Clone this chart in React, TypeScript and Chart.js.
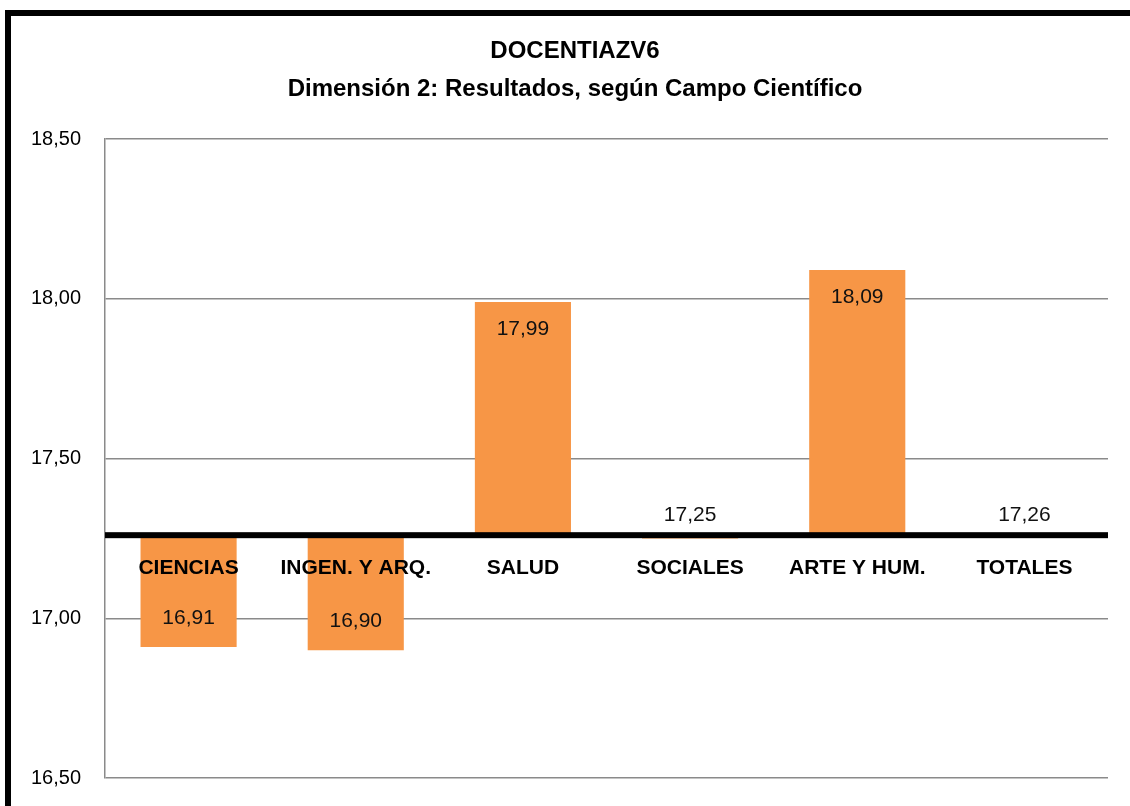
import React, { useEffect, useRef } from "react";
import { Chart, registerables } from "chart.js";

Chart.register(...registerables);

const categories = ["CIENCIAS", "INGEN. Y ARQ.", "SALUD", "SOCIALES", "ARTE Y HUM.", "TOTALES"];
const values = [16.91, 16.9, 17.99, 17.25, 18.09, 17.26];
const baseline = 17.26;
const titleLines = ["DOCENTIAZV6", "Dimensión 2: Resultados, según Campo Científico"];
const yMin = 16.5;
const yMax = 18.5;
const yStep = 0.5;

const FONT = "'Liberation Sans', Arial, sans-serif";
const fmt = (v: number) => v.toFixed(2).replace(".", ",");

const overlayPlugin = {
  id: "overlay",
  afterLayout(chart: any) {
    // let the y tick labels use the space left of the layout padding
    if (chart.scales.y) chart.scales.y.left = 0;
  },
  beforeDraw(chart: any) {
    const { ctx, width, height } = chart;
    ctx.save();
    ctx.fillStyle = "#ffffff";
    ctx.fillRect(0, 0, width, height);
    ctx.fillStyle = "#000000";
    ctx.fillRect(5, 10, 6, height - 10);
    ctx.fillRect(5, 10, width - 5, 6);
    ctx.restore();
  },
  afterDatasetsDraw(chart: any) {
    const { ctx, chartArea } = chart;
    const x = chart.scales.x;
    const y = chart.scales.y;
    const by = y.getPixelForValue(baseline);
    ctx.save();
    ctx.fillStyle = "#000000";
    ctx.fillRect(chartArea.left, by - 3, chartArea.right - chartArea.left, 6);

    ctx.textAlign = "center";
    ctx.textBaseline = "middle";
    ctx.font = `bold 21px ${FONT}`;
    ctx.fillStyle = "#000000";
    categories.forEach((c, i) => {
      ctx.fillText(c, x.getPixelForValue(i), by + 33);
    });

    ctx.font = `21px ${FONT}`;
    ctx.fillStyle = "#111111";
    values.forEach((v, i) => {
      const px = x.getPixelForValue(i);
      const py = y.getPixelForValue(v);
      let ly;
      if (Math.abs(v - baseline) < 0.05) ly = by - 20;
      else if (v > baseline) ly = py + 27;
      else ly = py - 29;
      ctx.fillText(fmt(v), px, ly);
    });
    ctx.restore();
  },
};

export default function App() {
  const ref = useRef<HTMLCanvasElement>(null);
  useEffect(() => {
    if (!ref.current) return;
    const chart = new Chart(ref.current, {
      type: "bar",
      data: {
        labels: categories,
        datasets: [
          {
            data: values.map((v) => [baseline, v]) as any,
            backgroundColor: "#F79646",
            borderWidth: 0,
            barPercentage: 0.575,
            categoryPercentage: 1,
          },
        ],
      },
      options: {
        animation: false,
        responsive: false,
        layout: { padding: { top: 0, left: 42, right: 22, bottom: 28 }, autoPadding: false },
        plugins: {
          legend: { display: false },
          tooltip: { enabled: false },
          title: {
            display: true,
            text: titleLines,
            color: "#000000",
            font: { family: FONT, size: 24, weight: "bold", lineHeight: "38px" } as any,
            padding: { top: 32, bottom: 31 },
          },
        },
        scales: {
          x: {
            display: false,
          },
          y: {
            min: yMin,
            max: yMax,
            afterFit: (s: any) => {
              s.width = 63;
              s.paddingTop = 0;
              s.paddingBottom = 0;
            },
            ticks: {
              stepSize: yStep,
              padding: 24,
              color: "#000000",
              font: { family: FONT, size: 20 },
              callback: (v: any) => fmt(Number(v)),
            },
            grid: { color: "#8a8a8a", lineWidth: 1.5, drawTicks: false },
            border: { color: "#8a8a8a", width: 1.5 },
          },
        },
      },
      plugins: [overlayPlugin],
    });
    return () => chart.destroy();
  }, []);
  return (
    <div style={{ position: "absolute", left: 0, top: 0, width: 1130, height: 806 }}>
      <canvas ref={ref} width={1130} height={806} />
    </div>
  );
}
